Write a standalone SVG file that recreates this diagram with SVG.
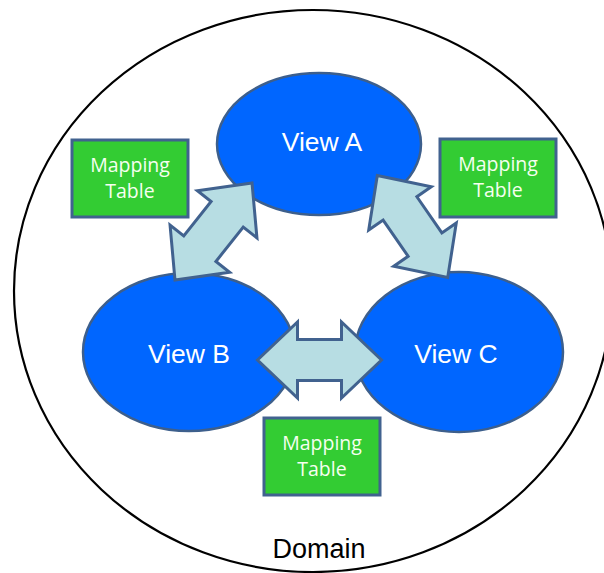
<svg xmlns="http://www.w3.org/2000/svg" xmlns:xlink="http://www.w3.org/1999/xlink" width="604" height="573" viewBox="0 0 604 573">
  <style>
    .domain { fill: #ffffff; stroke: #000000; stroke-width: 2.2; }
    .view { fill: #0066ff; stroke: #3d5f8c; stroke-width: 2.5; }
    .view-label { font-family: "Liberation Sans", Arial, sans-serif; font-size: 26.5px; fill: #ffffff; text-anchor: middle; }
    .table { fill: #33cc33; stroke: #41628f; stroke-width: 3; }
    .table-label { font-family: "Open Sans", "Noto Sans", sans-serif; font-size: 19.5px; fill: #f6fff0; text-anchor: middle; }
    .link { fill: #b7dde3; stroke: #41628f; stroke-width: 3; stroke-linejoin: miter; }
    .domain-label { font-family: "Liberation Sans", Arial, sans-serif; font-size: 27px; fill: #000000; text-anchor: middle; }
  </style>
  <defs>
    <!-- double-headed block arrow, centred on the origin, pointing along x -->
    <path id="dbl-arrow" d="M -62,0 L -22,-38 L -22,-20.5 L 22,-20.5 L 22,-38 L 62,0 L 22,38 L 22,20.5 L -22,20.5 L -22,38 Z"/>
  </defs>

  <g id="domain">
    <ellipse class="domain" cx="313" cy="291" rx="299" ry="281"/>
    <text class="domain-label" x="319" y="558">Domain</text>
  </g>

  <g id="view-a">
    <ellipse class="view" cx="319" cy="144" rx="102" ry="71"/>
    <text class="view-label" x="322" y="151">View A</text>
  </g>
  <g id="view-b">
    <ellipse class="view" cx="189" cy="352" rx="106" ry="79"/>
    <text class="view-label" x="189" y="363">View B</text>
  </g>
  <g id="view-c">
    <ellipse class="view" cx="459" cy="352" rx="104" ry="80"/>
    <text class="view-label" x="456" y="363">View C</text>
  </g>

  <g id="connectors">
    <use class="link" xlink:href="#dbl-arrow" href="#dbl-arrow" transform="translate(213.5,231.5) rotate(-51.6)"/>
    <use class="link" xlink:href="#dbl-arrow" href="#dbl-arrow" transform="translate(412.5,226.5) rotate(55.4)"/>
    <use class="link" xlink:href="#dbl-arrow" href="#dbl-arrow" transform="translate(319.5,360)"/>
  </g>

  <g id="mapping-ab">
    <rect class="table" x="72" y="140" width="116" height="77"/>
    <text class="table-label" x="130" y="172">Mapping</text>
    <text class="table-label" x="130" y="198">Table</text>
  </g>
  <g id="mapping-ac">
    <rect class="table" x="440" y="139" width="116" height="78"/>
    <text class="table-label" x="498" y="171">Mapping</text>
    <text class="table-label" x="498" y="197">Table</text>
  </g>
  <g id="mapping-bc">
    <rect class="table" x="264" y="418" width="116" height="77"/>
    <text class="table-label" x="322" y="450">Mapping</text>
    <text class="table-label" x="322" y="476">Table</text>
  </g>
</svg>
